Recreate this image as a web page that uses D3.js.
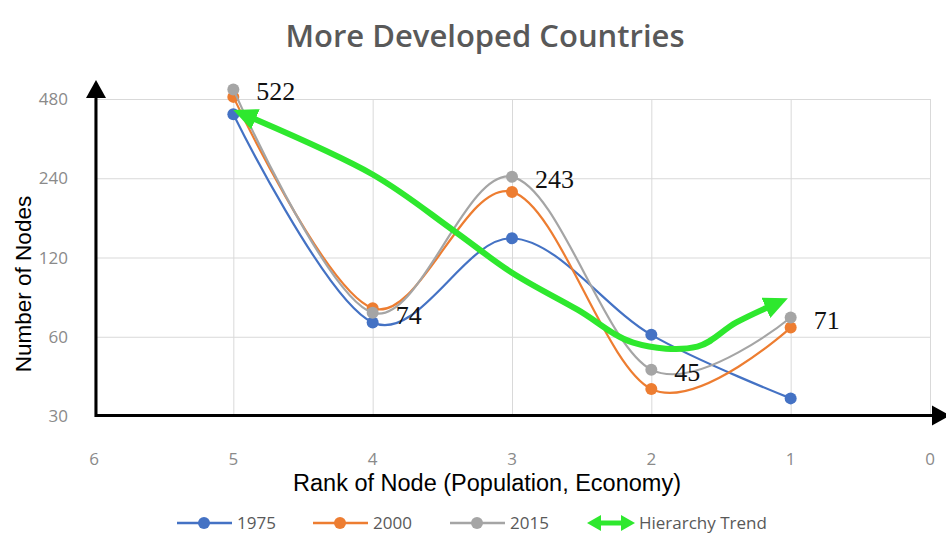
<!DOCTYPE html>
<html>
<head>
<meta charset="utf-8">
<script src="https://cdn.jsdelivr.net/npm/d3@7"></script>
<style>
  body { margin: 0; background: #fff; }
  svg { display: block; }
</style>
</head>
<body>
<svg id="chart" width="946" height="534"></svg>
<script>
// values
const ranks = [5, 4, 3, 2, 1];
const series1975 = [420, 68, 142, 61, 35];
const series2000 = [489, 77, 213, 38, 65];
const series2015 = [522, 74, 243, 45, 71];
const trendRanks = [5, 4, 3.42, 3, 2.53, 2.13, 1.67, 1.39, 1.02];
const trendValues = [436, 248, 152, 105, 76, 57, 55, 68, 84];
const xTicks = [6, 5, 4, 3, 2, 1, 0];
const yTicks = [30, 60, 120, 240, 480];
const seriesNames = ['1975', '2000', '2015'];
const seriesColors = ['#4472c4', '#ed7d31', '#a5a5a5'];
const trendName = 'Hierarchy Trend';
const trendColor = '#2ee82e';

const svg = d3.select('#chart');
const x = d3.scaleLinear().domain([6, 0]).range([94, 930]);
const y = d3.scaleLog().base(2).domain([30, 480]).range([416, 99]);

// gridlines
const grid = svg.append('g').attr('stroke', '#d9d9d9').attr('stroke-width', 1);
grid.selectAll('line.h').data(yTicks).enter().append('line')
  .attr('x1', x(6)).attr('x2', x(0))
  .attr('y1', d => y(d) + 0.5).attr('y2', d => y(d) + 0.5);
grid.selectAll('line.v').data(xTicks).enter().append('line')
  .attr('x1', d => x(d) + 0.5).attr('x2', d => x(d) + 0.5)
  .attr('y1', y(480)).attr('y2', y(30));

// tick labels
const tickFont = '"Open Sans", sans-serif';
svg.append('g').selectAll('text').data(yTicks).enter().append('text')
  .attr('x', 68).attr('y', d => y(d) + 6)
  .attr('text-anchor', 'end')
  .attr('font-family', tickFont).attr('font-size', 17).attr('fill', '#8a8a8a')
  .text(d => d);
svg.append('g').selectAll('text').data(xTicks).enter().append('text')
  .attr('x', d => x(d)).attr('y', 465)
  .attr('text-anchor', 'middle')
  .attr('font-family', tickFont).attr('font-size', 17).attr('fill', '#8a8a8a')
  .text(d => d);

// series, smoothed like the spreadsheet
const allSeries = [series1975, series2000, series2015];
const smooth = d3.line()
  .x((d, i) => x(ranks[i]))
  .y(d => y(d))
  .curve(d3.curveCatmullRom.alpha(0));

allSeries.forEach((vals, si) => {
  const g = svg.append('g');
  g.append('path')
    .attr('d', smooth(vals))
    .attr('fill', 'none')
    .attr('stroke', seriesColors[si])
    .attr('stroke-width', 2.2);
  g.selectAll('circle').data(vals).enter().append('circle')
    .attr('cx', (d, i) => x(ranks[i]))
    .attr('cy', d => y(d))
    .attr('r', 6)
    .attr('fill', seriesColors[si]);
});

// arrow head for the trend
const defs = svg.append('defs');
defs.append('marker')
  .attr('id', 'head')
  .attr('markerUnits', 'userSpaceOnUse')
  .attr('viewBox', '0 0 24 22')
  .attr('markerWidth', 24).attr('markerHeight', 22)
  .attr('refX', 24).attr('refY', 11)
  .attr('orient', 'auto-start-reverse')
  .append('path')
  .attr('d', 'M0,0 L24,11 L0,22 Z')
  .attr('fill', trendColor);

const trendLine = d3.line()
  .x((d, i) => x(trendRanks[i]))
  .y(d => y(d))
  .curve(d3.curveCatmullRom.alpha(0.5));
const trendPath = svg.append('path')
  .attr('d', trendLine(trendValues))
  .attr('fill', 'none')
  .attr('stroke', trendColor)
  .attr('stroke-width', 6)
  .attr('stroke-linejoin', 'round')
  .attr('marker-start', 'url(#head)')
  .attr('marker-end', 'url(#head)');
// hide the line ends under the heads so the tips stay sharp
const total = trendPath.node().getTotalLength();
trendPath.attr('stroke-dasharray', `0 12 ${total - 24} ${total}`);

// black axes with arrows
const axisG = svg.append('g');
axisG.append('line')
  .attr('x1', 96).attr('x2', 96)
  .attr('y1', 417).attr('y2', 96)
  .attr('stroke', '#000').attr('stroke-width', 3);
axisG.append('path')
  .attr('d', 'M96,80 L106,98 L86,98 Z').attr('fill', '#000');
axisG.append('line')
  .attr('x1', 95).attr('x2', 934)
  .attr('y1', 415.5).attr('y2', 415.5)
  .attr('stroke', '#000').attr('stroke-width', 3);
axisG.append('path')
  .attr('d', 'M950,415.5 L932,405.5 L932,425.5 Z').attr('fill', '#000');

// data labels (2015)
svg.append('g').selectAll('text').data(series2015).enter().append('text')
  .attr('x', (d, i) => x(ranks[i]) + 23)
  .attr('y', d => y(d) + 11)
  .attr('font-family', '"Liberation Serif", serif')
  .attr('font-size', 26).attr('fill', '#111')
  .text(d => d);

// titles
svg.append('text')
  .attr('x', 485).attr('y', 47)
  .attr('text-anchor', 'middle')
  .attr('font-family', '"Open Sans", sans-serif')
  .attr('font-weight', 600)
  .attr('font-size', 31).attr('fill', '#595959')
  .text('More Developed Countries');

svg.append('text')
  .attr('x', 487).attr('y', 491)
  .attr('text-anchor', 'middle')
  .attr('font-family', '"Liberation Sans", Arial, sans-serif')
  .attr('font-size', 23.5).attr('fill', '#000')
  .text('Rank of Node (Population, Economy)');

svg.append('text')
  .attr('transform', 'translate(31,284) rotate(-90)')
  .attr('text-anchor', 'middle')
  .attr('font-family', '"Liberation Sans", Arial, sans-serif')
  .attr('font-size', 22.5).attr('fill', '#000')
  .text('Number of Nodes');

// legend
const legend = svg.append('g').attr('transform', 'translate(0,523)');
const legendX = [177, 313, 450];
seriesNames.forEach((name, i) => {
  const g = legend.append('g').attr('transform', `translate(${legendX[i]},0)`);
  g.append('line').attr('x1', 0).attr('x2', 55)
    .attr('stroke', seriesColors[i]).attr('stroke-width', 2.5);
  g.append('circle').attr('cx', 27).attr('r', 6).attr('fill', seriesColors[i]);
  g.append('text').attr('x', 60).attr('y', 6)
    .attr('font-family', tickFont).attr('font-size', 17).attr('fill', '#595959')
    .text(name);
});
const tg = legend.append('g').attr('transform', 'translate(587,0)');
tg.append('line').attr('x1', 10).attr('x2', 38)
  .attr('stroke', trendColor).attr('stroke-width', 5);
tg.append('path').attr('d', 'M0,0 L14,-8 L14,8 Z').attr('fill', trendColor);
tg.append('path').attr('d', 'M48,0 L34,-8 L34,8 Z').attr('fill', trendColor);
tg.append('text').attr('x', 52).attr('y', 6)
  .attr('font-family', tickFont).attr('font-size', 17).attr('fill', '#595959')
  .text(trendName);
</script>
</body>
</html>
